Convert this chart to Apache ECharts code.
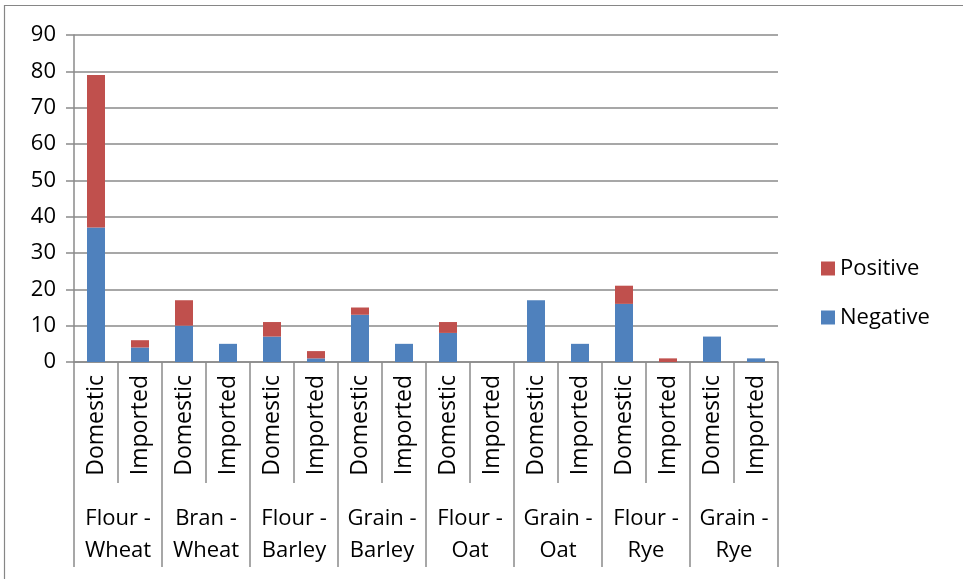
<!DOCTYPE html>
<html>
<head>
<meta charset="utf-8">
<title>Test results by product and origin</title>
<script src="https://cdn.jsdelivr.net/npm/echarts@6/dist/echarts.min.js"></script>
<style>
  html, body { margin: 0; padding: 0; background: #ffffff; }
  #chart { width: 963px; height: 579px; }
</style>
</head>
<body>
<div id="chart"></div>
<script>
// Origin of each sample, repeated for every product group
const origins = [
  'Domestic', 'Imported', 'Domestic', 'Imported', 'Domestic', 'Imported', 'Domestic', 'Imported',
  'Domestic', 'Imported', 'Domestic', 'Imported', 'Domestic', 'Imported', 'Domestic', 'Imported'
];

// Product groups (second level of the category axis)
const products = [
  'Flour -\nWheat', 'Bran -\nWheat', 'Flour -\nBarley', 'Grain -\nBarley',
  'Flour -\nOat', 'Grain -\nOat', 'Flour -\nRye', 'Grain -\nRye'
];

// Number of samples per origin within each product
const negative = [37, 4, 10, 5, 7, 1, 13, 5, 8, 0, 17, 5, 16, 0, 7, 1];
const positive = [42, 2, 7, 0, 4, 2, 2, 0, 3, 0, 0, 0, 5, 1, 0, 0];

// Value axis ticks
const yMin = 0;
const yMax = 90;
const yStep = 10;

const FONT = 'Open Sans';
const GRID_GRAY = '#8a8a8a';

const chart = echarts.init(document.getElementById('chart'), null, { renderer: 'canvas' });

chart.setOption({
  animation: false,
  backgroundColor: '#ffffff',
  textStyle: { fontFamily: FONT, color: '#000000' },
  graphic: [{
    type: 'rect',
    shape: { x: 4.5, y: 5.5, width: 1200, height: 1200 },
    style: { fill: 'none', stroke: '#868686', lineWidth: 1.2 },
    silent: true
  }],
  grid: { left: 74, right: 185, top: 35, bottom: 217, containLabel: false },
  legend: {
    data: ['Positive', 'Negative'],
    orient: 'vertical',
    left: 816,
    top: 250,
    itemWidth: 14,
    itemHeight: 14,
    itemGap: 22,
    icon: 'rect',
    textStyle: { fontFamily: FONT, fontSize: 22, color: '#000000', lineHeight: 27 }
  },
  xAxis: [
    {
      type: 'category',
      data: origins,
      position: 'bottom',
      boundaryGap: true,
      axisLine: { show: true, lineStyle: { color: GRID_GRAY, width: 1.5 } },
      axisTick: { show: true, interval: 0, length: 121, lineStyle: { color: GRID_GRAY, width: 1.5 } },
      axisLabel: {
        interval: 0,
        rotate: 90,
        margin: 13,
        fontFamily: FONT,
        fontSize: 23,
        color: '#000000'
      }
    },
    {
      type: 'category',
      data: products,
      position: 'bottom',
      boundaryGap: true,
      axisLine: { show: false },
      axisTick: { show: true, interval: 0, length: 205, lineStyle: { color: GRID_GRAY, width: 1.5 } },
      axisLabel: {
        interval: 0,
        margin: 141,
        fontFamily: FONT,
        fontSize: 22,
        lineHeight: 32,
        color: '#000000',
        align: 'center'
      }
    }
  ],
  yAxis: {
    type: 'value',
    min: yMin,
    max: yMax,
    interval: yStep,
    axisLine: { show: true, lineStyle: { color: GRID_GRAY, width: 1.5 } },
    axisTick: { show: true, inside: false, length: 8, lineStyle: { color: GRID_GRAY, width: 1.5 } },
    splitLine: { show: true, lineStyle: { color: GRID_GRAY, width: 1.5 } },
    axisLabel: { margin: 18, fontFamily: FONT, fontSize: 22, color: '#000000' }
  },
  series: [
    {
      name: 'Negative',
      type: 'bar',
      stack: 'samples',
      xAxisIndex: 0,
      barWidth: 18,
      data: negative,
      itemStyle: { color: '#4F81BD' }
    },
    {
      name: 'Positive',
      type: 'bar',
      stack: 'samples',
      xAxisIndex: 0,
      barWidth: 18,
      data: positive,
      itemStyle: { color: '#C0504D' }
    }
  ]
});
</script>
</body>
</html>
